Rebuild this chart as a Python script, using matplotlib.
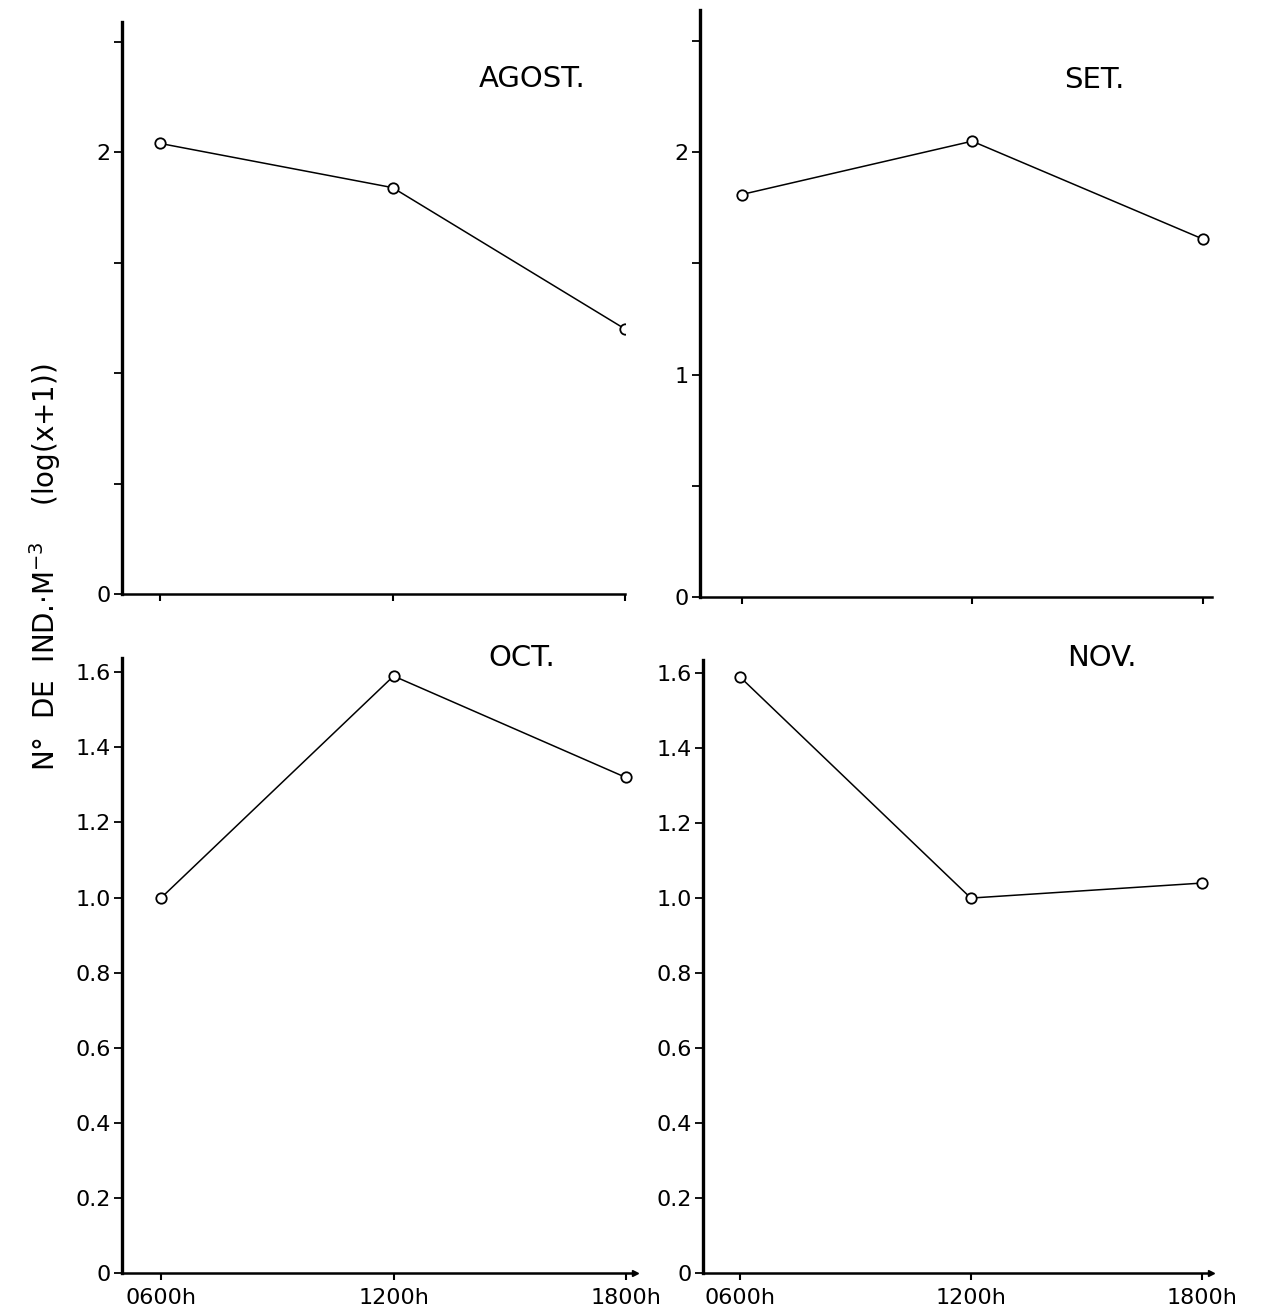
import matplotlib
matplotlib.use("Agg")
import matplotlib.pyplot as plt

plt.rcParams['font.family'] = ['DejaVu Sans']

hours = ["0600h", "1200h", "1800h"]

agosto = [2.04, 1.84, 1.20]
setembro = [1.81, 2.05, 1.61]
octubre = [1.00, 1.59, 1.32]
noviembre = [1.59, 1.00, 1.04]

months = ["AGOST.", "SET.", "OCT.", "NOV."]

top_major = [0, 2]
top_major_set = [0, 1, 2]
top_minor = [0.5, 1.0, 1.5, 2.5]
bottom_major = [0, 0.2, 0.4, 0.6, 0.8, 1.0, 1.2, 1.4, 1.6]
bottom_labels = ["0", "0.2", "0.4", "0.6", "0.8", "1.0", "1.2", "1.4", "1.6"]

W, H = 1262, 1316
fig = plt.figure(figsize=(W / 100, H / 100), dpi=100)


def px_axes(left, right, top, bottom):
    return fig.add_axes([left / W, 1 - bottom / H, (right - left) / W, (bottom - top) / H])


def style(ax, ylim, xlim=(-0.165, 2.04)):
    ax.set_xlim(*xlim)
    ax.set_ylim(*ylim)
    for s in ("top", "right"):
        ax.spines[s].set_visible(False)
    ax.spines["left"].set_linewidth(2.4)
    ax.spines["bottom"].set_linewidth(1.8)
    ax.set_xticks(range(len(hours)))
    ax.tick_params(axis="x", direction="out", length=5, width=1.5, pad=6, labelsize=16)
    ax.tick_params(axis="y", direction="out", length=6, width=1.3, pad=2, labelsize=16)
    ax.tick_params(axis="y", which="minor", direction="out", length=6, width=1.3)
    ax.patch.set_alpha(0)


def draw(ax, values, title, tx, ty):
    ax.plot(range(len(values)), values, color="black", lw=1.1,
            marker="o", ms=7.5, mfc="white", mec="black", mew=1.3, zorder=3)
    ax.text(tx, ty, title, transform=ax.transAxes, fontsize=21,
            ha="center", va="center")


# top row: log(x+1) scale 0..2.6
ax1 = px_axes(122, 625, 22, 594)
style(ax1, (0, 2.59), xlim=(-0.165, 2.0))
ax1.set_yticks(top_major)
ax1.set_yticks(top_minor, minor=True)
ax1.set_xticklabels([])
draw(ax1, agosto, months[0], 0.815, 0.9)

ax2 = px_axes(700, 1212, 10, 597)
style(ax2, (0, 2.64), xlim=(-0.18, 2.04))
ax2.set_yticks(top_major_set)
ax2.set_yticks([0.5, 1.5, 2.5], minor=True)
ax2.set_xticklabels([])
draw(ax2, setembro, months[1], 0.77, 0.881)

# bottom row: 0..1.6 scale
ax3 = px_axes(122, 635, 658, 1273)
style(ax3, (0, 1.638), xlim=(-0.17, 2.04))
ax3.set_yticks(bottom_major)
ax3.set_yticklabels(bottom_labels)
ax3.set_xticklabels(hours)
draw(ax3, octubre, months[2], 0.78, 1.0)

ax4 = px_axes(703, 1211, 660, 1273)
style(ax4, (0, 1.635), xlim=(-0.16, 2.04))
ax4.set_yticks(bottom_major)
ax4.set_yticklabels(bottom_labels)
ax4.set_xticklabels(hours)
draw(ax4, noviembre, months[3], 0.785, 1.004)

for ax in (ax3, ax4):
    ax.plot(1, 0, ">", color="black", ms=5, transform=ax.transAxes, clip_on=False)

fig.text(45 / W, 1 - 567 / H, r"N°  DE  IND.$\cdot$M$^{-3}$    (log(x+1))",
         rotation=90, ha="center", va="center", fontsize=20)

fig.savefig("out.png", dpi=100, facecolor="white")
